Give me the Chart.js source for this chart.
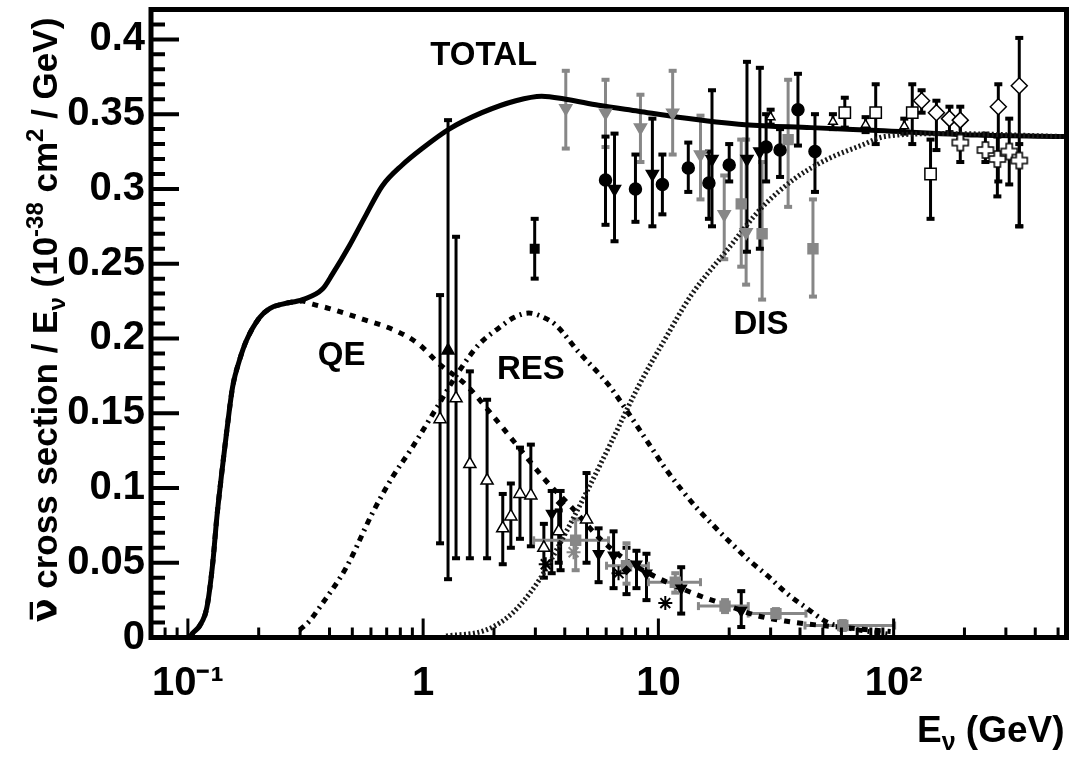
<!DOCTYPE html>
<html><head><meta charset="utf-8">
<script src="https://cdn.jsdelivr.net/npm/chart.js@4/dist/chart.umd.min.js"></script>
<style>html,body{margin:0;padding:0;background:#fff;}#wrap{width:1076px;height:757px;}</style>
</head><body><div id="wrap"><canvas id="c" width="1076" height="757"></canvas></div>
<script>
// ---------------- axis tick labels ----------------
const xTickVals = [0.1, 1, 10, 100];
const xTickLabels = ['10\u207B\u00B9', '1', '10', '10\u00B2'];
const yTickVals = [0, 0.05, 0.1, 0.15, 0.2, 0.25, 0.3, 0.35, 0.4];
const yTickLabels = ['0', '0.05', '0.1', '0.15', '0.2', '0.25', '0.3', '0.35', '0.4'];

// ---------------- model curves ----------------
const totalE = [0.102,0.105,0.1124,0.1204,0.1276,0.1327,0.1393,0.1463,0.1551,0.1661,0.1778,0.2019,0.2226,0.2526,0.3071,0.3733,0.4115,0.4858,0.5734,0.6702,0.8148,0.990,1.289,1.778,2.478,3.193,4.036,5.569,8.229,12.15,23.37,44.5,85.5,226.9,540];
const totalV = [0,0.003,0.008,0.02,0.05,0.08,0.11,0.138,0.168,0.186,0.199,0.214,0.220,0.223,0.226,0.233,0.243,0.262,0.283,0.302,0.316,0.327,0.340,0.351,0.359,0.362,0.360,0.356,0.352,0.348,0.343,0.341,0.339,0.336,0.335];

const qeE = [0.102,0.105,0.1124,0.1204,0.1276,0.1327,0.1393,0.1463,0.1551,0.1661,0.1778,0.2019,0.2226,0.2526,0.3071,0.3387,0.3996,0.5513,0.7685,0.9618,1.169,1.521,1.961,2.552,3.32,4.28,5.569,7.108,9.07,14.35,19.23,25.76,34.52,57.9,97.1];
const qeV = [0,0.003,0.008,0.02,0.05,0.08,0.11,0.138,0.168,0.186,0.199,0.214,0.220,0.223,0.225,0.223,0.220,0.213,0.205,0.196,0.183,0.169,0.149,0.127,0.105,0.087,0.067,0.053,0.043,0.029,0.022,0.015,0.011,0.007,0.004];

const resE = [0.2983,0.3288,0.3625,0.4718,0.608,0.7389,0.8982,1.135,1.42,1.727,2.099,2.43,2.813,3.256,3.661,4.581,6.139,7.248,8.229,9.34,10.71,12.52,14.49,17.11,20.39,24.54,29.25,34.86,42.37,52.53,65.74,97.1];
const resV = [0.005,0.011,0.020,0.047,0.083,0.107,0.127,0.153,0.178,0.196,0.207,0.214,0.217,0.214,0.209,0.191,0.169,0.153,0.140,0.127,0.113,0.099,0.087,0.075,0.063,0.051,0.041,0.030,0.020,0.010,0.006,0.002];

const disE = [1.252,1.849,2.383,3.101,3.882,4.906,6.322,8.229,10.71,13.8,19.8,27.32,38.07,52.53,72.5,91.6,169.4,540];
const disV = [0.001,0.005,0.016,0.038,0.065,0.096,0.131,0.168,0.200,0.229,0.260,0.287,0.307,0.320,0.329,0.335,0.337,0.335];

// ---------------- measurements ----------------
// open up-triangles (low energy)
const openTriE  = [1.18,1.38,1.58,1.87,2.18,2.36,2.58,2.87,3.26,3.77,4.95];
const openTriV  = [0.146,0.160,0.116,0.105,0.073,0.081,0.096,0.095,0.060,0.071,0.079];
const openTriLo = [0.063,0.053,0.053,0.053,0.049,0.060,0.066,0.061,0.040,0.050,0.050];
const openTriHi = [0.229,0.268,0.178,0.159,0.096,0.103,0.127,0.129,0.076,0.085,0.110];
// filled up-triangle
const fillTriE = [1.276], fillTriV = [0.192], fillTriLo = [0.039], fillTriHi = [0.346];
// black down-triangles (low)
const bDnLowE  = [3.52,5.57,6.45,8.07,8.9,12.5,22.5];
const bDnLowV  = [0.083,0.056,0.055,0.049,0.043,0.033,0.018];
const bDnLowLo = [0.043,0.037,0.033,0.033,0.025,0.016,0.007];
const bDnLowHi = [0.098,0.073,0.071,0.058,0.056,0.047,0.031];
// black small diamonds (low)
const bDiaE = [3.84,7.32], bDiaV = [0.090,0.045], bDiaLo = [0.045,0.029], bDiaHi = [0.098,0.060];
// grey squares with horizontal bins (low)
const gSqLowE   = [4.45,7.32,11.8,19.2,31.6,60.8];
const gSqLowV   = [0.065,0.048,0.037,0.021,0.016,0.008];
const gSqLowELo = [2.95,6.02,9.07,14.8,24.1,42.0];
const gSqLowEHi = [6.14,9.07,15.1,24.1,42.4,101];
const gSqLowLo  = [0.045,0.036,0.030,0.017,0.013,0.005];
const gSqLowHi  = [0.079,0.063,0.043,0.025,0.019,0.011];
// asterisks
const bStarE = [3.32,6.77,10.7], bStarV = [0.049,0.043,0.023];
const gStarE = [4.36], gStarV = [0.057];
// black square
const bSqE = [2.98], bSqV = [0.26], bSqLo = [0.24], bSqHi = [0.28];
// grey down-triangles (high)
const gDnE  = [4.04,5.96,8.39,11.5,15.1,19.05,23.6];
const gDnV  = [0.354,0.351,0.341,0.351,0.323,0.283,0.271];
const gDnLo = [0.327,0.328,0.318,0.323,0.293,0.253,0.236];
const gDnHi = [0.379,0.373,0.363,0.379,0.349,0.309,0.333];
// grey squares (high)
const gSqE  = [22.5,27.6,35.6,45.4];
const gSqV  = [0.290,0.270,0.333,0.260];
const gSqLo = [0.248,0.226,0.288,0.228];
const gSqHi = [0.333,0.318,0.373,0.293];
// black circles
const bCircE  = [5.96,7.99,10.4,13.4,16.4,20.0,28.7,32.9,39.2,46.3];
const bCircV  = [0.306,0.300,0.303,0.314,0.304,0.316,0.328,0.326,0.353,0.325];
const bCircLo = [0.276,0.278,0.283,0.298,0.280,0.305,0.305,0.308,0.329,0.298];
const bCircHi = [0.335,0.323,0.323,0.331,0.325,0.330,0.350,0.340,0.377,0.350];
// black down-triangles (high)
const bDnE  = [6.51,9.43,16.9,23.8,27.0];
const bDnV  = [0.300,0.310,0.320,0.320,0.325];
const bDnLo = [0.265,0.275,0.275,0.258,0.260];
const bDnHi = [0.337,0.347,0.366,0.385,0.381];
// open squares
const oSqE  = [62,83.9,120,143.5];
const oSqV  = [0.351,0.351,0.351,0.310];
const oSqLo = [0.341,0.330,0.330,0.280];
const oSqHi = [0.361,0.370,0.370,0.333];
// open diamonds
const oDiaE  = [131.5,152,172.7,192,278.6,342];
const oDiaV  = [0.359,0.351,0.347,0.346,0.355,0.369];
const oDiaLo = [0.351,0.326,0.338,0.333,0.305,0.275];
const oDiaHi = [0.366,0.359,0.355,0.355,0.370,0.401];
// open crosses
const oCrE  = [192,245.5,276,310,342];
const oCrV  = [0.331,0.326,0.320,0.325,0.319];
const oCrLo = [0.318,0.318,0.295,0.303,0.275];
const oCrHi = [0.345,0.337,0.335,0.347,0.330];
// small open up-triangles (high)
const oTriHE  = [30,55.2,76,111];
const oTriHV  = [0.348,0.345,0.343,0.342];
const oTriHLo = [0.343,0.340,0.338,0.337];
const oTriHHi = [0.353,0.350,0.348,0.347];

// curve labels
const labelTexts = ['TOTAL','QE','RES','DIS'];
const labelE = [1.81, 0.45, 2.87, 27.3];
const labelV = [0.389, 0.188, 0.179, 0.209];

// ---------------- helpers ----------------
const FONT = '"Liberation Sans", Arial, Helvetica, sans-serif';
const GREY = '#878787';
const pts = (E, V) => E.map((e, i) => ({x: e, y: V[i]}));

function plusCanvas(r) {
  const s = 2 * r + 4, c = document.createElement('canvas');
  c.width = c.height = s;
  const g = c.getContext('2d'), m = s / 2, a = r * 0.38;
  g.beginPath();
  g.moveTo(m - a, m - r); g.lineTo(m + a, m - r); g.lineTo(m + a, m - a); g.lineTo(m + r, m - a);
  g.lineTo(m + r, m + a); g.lineTo(m + a, m + a); g.lineTo(m + a, m + r); g.lineTo(m - a, m + r);
  g.lineTo(m - a, m + a); g.lineTo(m - r, m + a); g.lineTo(m - r, m - a); g.lineTo(m - a, m - a);
  g.closePath(); g.fillStyle = '#fff'; g.fill(); g.lineWidth = 1.5; g.strokeStyle = '#000'; g.stroke();
  return c;
}

function curve(E, V, opts) {
  return Object.assign({data: pts(E, V), showLine: true, pointRadius: 0, borderColor: '#000',
    backgroundColor: '#000', fill: false, order: 10, cubicInterpolationMode: 'monotone', borderCapStyle: 'butt'}, opts);
}
function marks(E, V, lo, hi, opts) {
  return Object.assign({data: pts(E, V), showLine: false, errLo: lo, errHi: hi, errColor: '#000', order: 1,
    pointRadius: 6, pointBorderWidth: 1.5, pointBorderColor: '#000', pointBackgroundColor: '#000'}, opts);
}

const datasets = [
  curve(disE, disV, {borderWidth: 5, borderDash: [2, 2.5], borderColor: '#1a1a1a'}),
  curve(resE, resV, {borderWidth: 5, borderDash: [6, 5, 2, 5]}),
  curve(qeE, qeV, {borderWidth: 5, borderDash: [6, 7]}),
  curve(totalE, totalV, {borderWidth: 5}),
  marks(openTriE, openTriV, openTriLo, openTriHi, {pointStyle: 'triangle', pointRadius: 7, pointBackgroundColor: '#fff'}),
  marks(fillTriE, fillTriV, fillTriLo, fillTriHi, {pointStyle: 'triangle', pointRadius: 7}),
  marks(bDnLowE, bDnLowV, bDnLowLo, bDnLowHi, {pointStyle: 'triangle', pointRotation: 180, pointRadius: 6}),
  marks(bDiaE, bDiaV, bDiaLo, bDiaHi, {pointStyle: 'rectRot', pointRadius: 4}),
  marks(gSqLowE, gSqLowV, gSqLowLo, gSqLowHi, {pointStyle: 'rect', pointRadius: 7, errColor: GREY,
    xLo: gSqLowELo, xHi: gSqLowEHi, pointBorderColor: GREY, pointBackgroundColor: GREY}),
  marks(bStarE, bStarV, null, null, {pointStyle: 'star', pointRadius: 7, pointBorderWidth: 2}),
  marks(gStarE, gStarV, null, null, {pointStyle: 'star', pointRadius: 7, pointBorderWidth: 2, pointBorderColor: GREY}),
  marks(bSqE, bSqV, bSqLo, bSqHi, {pointStyle: 'rect', pointRadius: 6}),
  marks(gDnE, gDnV, gDnLo, gDnHi, {pointStyle: 'triangle', pointRotation: 180, pointRadius: 7, errColor: GREY,
    pointBorderColor: GREY, pointBackgroundColor: GREY}),
  marks(gSqE, gSqV, gSqLo, gSqHi, {pointStyle: 'rect', pointRadius: 7, errColor: GREY,
    pointBorderColor: GREY, pointBackgroundColor: GREY}),
  marks(bCircE, bCircV, bCircLo, bCircHi, {pointStyle: 'circle', pointRadius: 6}),
  marks(bDnE, bDnV, bDnLo, bDnHi, {pointStyle: 'triangle', pointRotation: 180, pointRadius: 7}),
  marks(oSqE, oSqV, oSqLo, oSqHi, {pointStyle: 'rect', pointRadius: 8, pointBackgroundColor: '#fff'}),
  marks(oTriHE, oTriHV, oTriHLo, oTriHHi, {pointStyle: 'triangle', pointRadius: 5, pointBackgroundColor: '#fff'}),
  marks(oDiaE, oDiaV, oDiaLo, oDiaHi, {pointStyle: 'rectRot', pointRadius: 8, pointBackgroundColor: '#fff'}),
  marks(oCrE, oCrV, oCrLo, oCrHi, {pointStyle: plusCanvas(8)})
];

// error bars drawn through the scales
const errorBars = {
  id: 'errorBars',
  beforeDatasetsDraw(chart) {
    const {ctx, scales: {x, y}} = chart;
    chart.data.datasets.forEach(ds => {
      if (!ds.errLo && !ds.xLo) return;
      ctx.save();
      ctx.strokeStyle = ds.errColor; ctx.fillStyle = ds.errColor; ctx.lineWidth = 3;
      ds.data.forEach((p, j) => {
        const px = x.getPixelForValue(p.x), py = y.getPixelForValue(p.y);
        if (ds.xLo) {
          const x1 = x.getPixelForValue(ds.xLo[j]), x2 = x.getPixelForValue(ds.xHi[j]);
          ctx.beginPath(); ctx.moveTo(x1, py); ctx.lineTo(x2, py); ctx.stroke();
          ctx.fillRect(x1 - 1.5, py - 4, 3, 8); ctx.fillRect(x2 - 1.5, py - 4, 3, 8);
        }
        if (ds.errLo) {
          const y1 = y.getPixelForValue(ds.errLo[j]), y2 = y.getPixelForValue(ds.errHi[j]);
          ctx.beginPath(); ctx.moveTo(px, y1); ctx.lineTo(px, y2); ctx.stroke();
          ctx.fillRect(px - 4, y1 - 2, 8, 4); ctx.fillRect(px - 4, y2 - 2, 8, 4);
        }
      });
      ctx.restore();
    });
  }
};

function richText(ctx, segs, x, y, align) {
  let w = 0;
  const f = s => 'bold ' + s.size + 'px ' + (s.fam || FONT);
  segs.forEach(s => { ctx.font = f(s); s.w = ctx.measureText(s.t).width; w += s.w; });
  let cx = align === 'right' ? x - w : align === 'center' ? x - w / 2 : x;
  segs.forEach(s => { ctx.font = f(s); ctx.fillText(s.t, cx, y + s.dy); cx += s.w; });
}

const frameAndText = {
  id: 'frameAndText',
  afterDraw(chart) {
    const {ctx, chartArea: a, scales: {x, y}} = chart;
    ctx.save();
    ctx.strokeStyle = '#000'; ctx.fillStyle = '#000';
    // y ticks
    ctx.lineWidth = 4;
    ctx.beginPath();
    for (let k = 0; k <= 42; k++) {
      const py = y.getPixelForValue(k / 100);
      ctx.moveTo(a.left, py); ctx.lineTo(a.left + (k % 5 === 0 ? 28 : 14), py);
    }
    ctx.stroke();
    // x ticks
    ctx.lineWidth = 3;
    ctx.beginPath();
    [0.01, 0.1, 1, 10, 100].forEach(d => {
      for (let k = 1; k <= 9; k++) {
        const v = k * d;
        if (v < x.min || v > x.max) continue;
        const px = x.getPixelForValue(v);
        ctx.moveTo(px, a.bottom); ctx.lineTo(px, a.bottom - (k === 1 ? 19 : 10));
      }
    });
    ctx.stroke();
    // frame
    ctx.lineWidth = 5;
    ctx.strokeRect(a.left, a.top, a.right - a.left, a.bottom - a.top);
    // curve labels
    ctx.textAlign = 'center'; ctx.textBaseline = 'middle';
    ctx.font = 'bold 33px ' + FONT;
    labelTexts.forEach((t, i) => ctx.fillText(t, x.getPixelForValue(labelE[i]), y.getPixelForValue(labelV[i])));
    // x title
    ctx.textAlign = 'left'; ctx.textBaseline = 'alphabetic';
    richText(ctx, [{t: 'E', size: 37, dy: 0}, {t: '\u03BD', size: 25, dy: 8}, {t: ' (GeV)', size: 37, dy: 0}], a.right - 2, 742, 'right');
    // y title (rotated)
    ctx.translate(57, 320); ctx.rotate(-Math.PI / 2);
    richText(ctx, [
      {t: '\u03BD\u0305', size: 35, dy: 0, fam: '"DejaVu Sans"'},
      {t: ' cross section / E', size: 35, dy: 0}, {t: '\u03BD', size: 24, dy: 8},
      {t: ' (10', size: 35, dy: 0}, {t: '-38', size: 24, dy: -14},
      {t: ' cm', size: 35, dy: 0}, {t: '2', size: 24, dy: -14}, {t: ' / GeV)', size: 35, dy: 0}
    ], 0, 0, 'center');
    ctx.restore();
  }
};

const zeroPad = s => { s.paddingTop = 0; s.paddingBottom = 0; s.paddingLeft = 0; s.paddingRight = 0; };

new Chart(document.getElementById('c'), {
  type: 'scatter',
  data: {datasets},
  plugins: [errorBars, frameAndText],
  options: {
    responsive: false, animation: false, devicePixelRatio: 1,
    layout: {padding: {top: 7.5, right: 6.5, left: 0, bottom: 0}},
    plugins: {legend: {display: false}, tooltip: {enabled: false}},
    scales: {
      x: {
        type: 'logarithmic', min: 0.0697, max: 543,
        border: {display: false}, grid: {display: false, drawTicks: false},
        afterBuildTicks: s => { s.ticks = xTickVals.map(v => ({value: v, major: true})); },
        afterFit: s => { s.height = 119.5; zeroPad(s); },
        ticks: {autoSkip: false, maxRotation: 0, padding: 22, color: '#000',
          font: {family: FONT, size: 40, weight: 'bold'},
          callback: v => { const i = xTickVals.indexOf(v); return i >= 0 ? xTickLabels[i] : ''; }}
      },
      y: {
        type: 'linear', min: 0, max: 0.42,
        border: {display: false}, grid: {display: false, drawTicks: false},
        afterBuildTicks: s => { s.ticks = yTickVals.map(v => ({value: v})); },
        afterFit: s => { s.width = 151; zeroPad(s); },
        ticks: {padding: 6, color: '#000', font: {family: FONT, size: 40, weight: 'bold'},
          callback: v => { const i = yTickVals.findIndex(t => Math.abs(t - v) < 1e-9); return i >= 0 ? yTickLabels[i] : ''; }}
      }
    }
  }
});
</script>
</body></html>
